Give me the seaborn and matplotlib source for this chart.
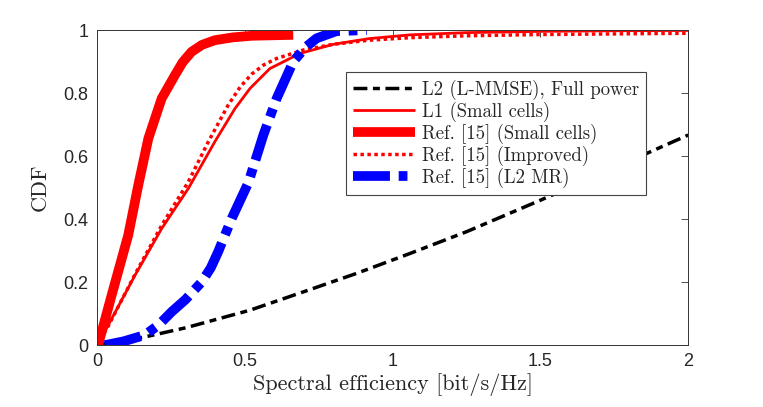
import numpy as np
import seaborn as sns
import matplotlib.pyplot as plt

# ---- curve data ----
l2_mmse_x = [0.0, 0.05, 0.162, 0.3, 0.518, 0.698, 0.879, 1.059, 1.25, 1.5, 1.75, 2.0]
l2_mmse_y = [0.0, 0.008, 0.026, 0.055, 0.111, 0.169, 0.228, 0.291, 0.36, 0.46, 0.563, 0.667]

l1_x = [0.0, 0.038, 0.129, 0.219, 0.309, 0.399, 0.467, 0.518, 0.585, 0.687, 0.80, 0.92,
        1.06, 1.25, 1.5, 1.75, 2.0]
l1_y = [0.0, 0.063, 0.222, 0.37, 0.497, 0.646, 0.751, 0.815, 0.878, 0.926, 0.955, 0.973,
        0.985, 0.992, 0.996, 0.998, 0.999]

ref_small_x = [0.004, 0.05, 0.106, 0.14, 0.174, 0.219, 0.264, 0.29, 0.32, 0.355, 0.399,
               0.46, 0.523, 0.664]
ref_small_y = [0.0, 0.159, 0.349, 0.508, 0.656, 0.783, 0.857, 0.898, 0.931, 0.953, 0.968,
               0.977, 0.982, 0.985]

ref_impr_x = [0.0, 0.038, 0.129, 0.219, 0.309, 0.377, 0.444, 0.485, 0.523, 0.565, 0.608,
              0.699, 0.80, 0.92, 1.06, 1.25, 1.5, 1.75, 2.0]
ref_impr_y = [0.0, 0.06, 0.225, 0.38, 0.518, 0.646, 0.762, 0.82, 0.86, 0.89, 0.91,
              0.937, 0.955, 0.968, 0.976, 0.982, 0.986, 0.988, 0.99]

ref_mr_x = [0.027, 0.09, 0.162, 0.21, 0.253, 0.3, 0.354, 0.385, 0.41, 0.456, 0.512, 0.563,
            0.608, 0.664, 0.705, 0.743, 0.811, 0.913]
ref_mr_y = [0.0, 0.012, 0.032, 0.065, 0.106, 0.145, 0.2, 0.245, 0.296, 0.402, 0.515, 0.667,
            0.783, 0.9, 0.945, 0.974, 0.997, 1.0]

sns.set_style("white")
plt.rcParams['font.family'] = ['Liberation Sans', 'DejaVu Sans']

fig, ax = plt.subplots(figsize=(7.63, 4.07), dpi=100)

caps = dict(solid_capstyle='butt', dash_capstyle='butt')
sns.lineplot(x=l2_mmse_x, y=l2_mmse_y, ax=ax, sort=False, color='black', lw=2.5,
             label='L2 (L-MMSE), Full power', **caps)
ax.lines[-1].set_dashes([4, 1.6, 2, 1.6])
sns.lineplot(x=l1_x, y=l1_y, ax=ax, sort=False, color='red', lw=2, label='L1 (Small cells)', **caps)
sns.lineplot(x=ref_small_x, y=ref_small_y, ax=ax, sort=False, color='red', lw=7,
             label='Ref. [15] (Small cells)', **caps)
sns.lineplot(x=ref_impr_x, y=ref_impr_y, ax=ax, sort=False, color='red', lw=2.5,
             label='Ref. [15] (Improved)', **caps)
ax.lines[-1].set_dashes([1, 1])
sns.lineplot(x=ref_mr_x, y=ref_mr_y, ax=ax, sort=False, color='blue', lw=7,
             label='Ref. [15] (L2 MR)', **caps)
ax.lines[-1].set_dashes([3.8, 0.9, 0.9, 0.9])

ax.set_xlim(0, 2)
ax.set_ylim(0, 1)
ax.set_xticks([0, 0.5, 1, 1.5, 2])
ax.set_xticklabels(['0', '0.5', '1', '1.5', '2'])
ax.set_yticks([0, 0.2, 0.4, 0.6, 0.8, 1])
ax.set_yticklabels(['0', '0.2', '0.4', '0.6', '0.8', '1'])
ax.tick_params(direction='in', top=True, right=True, length=5, width=0.6, labelsize=13,
               color='#333333', pad=6)
for s in ax.spines.values():
    s.set_linewidth(0.7)
    s.set_color('#333333')

ax.set_xlabel('Spectral efficiency [bit/s/Hz]', fontfamily='cmr10', fontsize=16, labelpad=2)
ax.set_ylabel('CDF', fontfamily='cmr10', fontsize=16, labelpad=10)

leg = ax.legend(loc='upper right', bbox_to_anchor=(0.929, 0.867), borderaxespad=0,
                prop={'family': 'cmr10', 'size': 13.5},
                fancybox=False, edgecolor='#444444', framealpha=1, handlelength=3.3,
                borderpad=0.4, labelspacing=0.1, handletextpad=0.35)
leg.get_frame().set_linewidth(0.8)

fig.subplots_adjust(left=0.127, right=0.902, top=0.926, bottom=0.152)
fig.savefig('out.png', dpi=100)
